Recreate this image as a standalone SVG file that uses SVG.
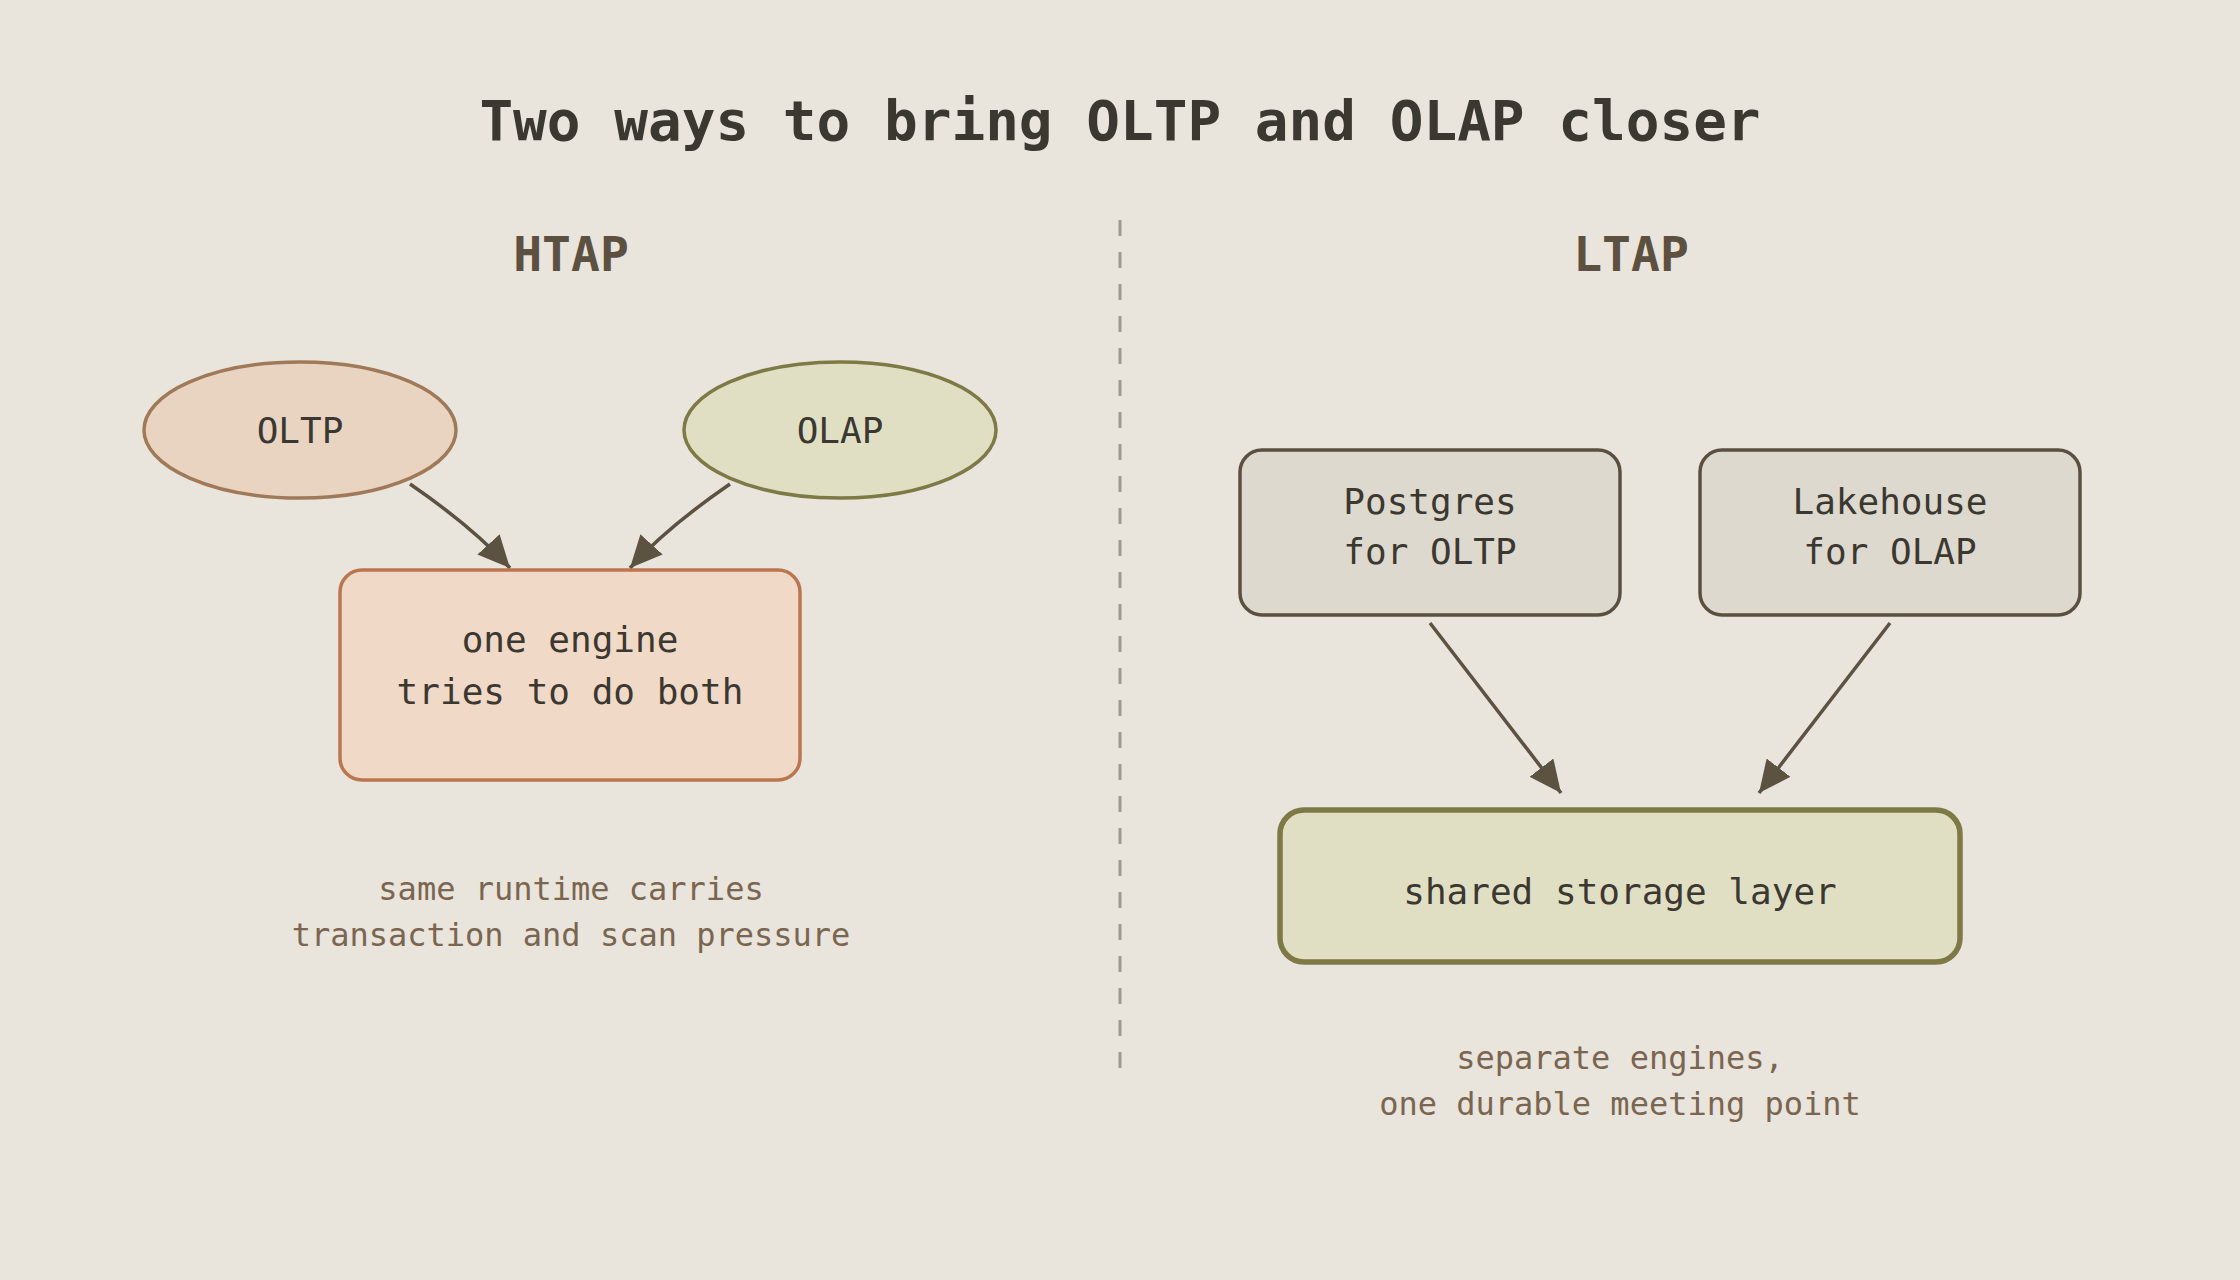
<svg xmlns="http://www.w3.org/2000/svg" width="2240" height="1280" viewBox="0 0 2240 1280">
<style>
  text { font-family: "DejaVu Sans Mono", "Liberation Mono", monospace; text-anchor: middle; }
  .title { font-size: 56px; font-weight: bold; fill: #3b3731; }
  .head { font-size: 48px; font-weight: bold; fill: #5c5040; }
  .lbl { font-size: 36px; fill: #3b3731; }
  .cap { font-size: 32px; fill: #7a6650; }
  .conn { fill: none; stroke: #5b5242; stroke-width: 3.5; marker-end: url(#arr); }
</style>
<defs>
  <marker id="arr" markerUnits="userSpaceOnUse" markerWidth="32" markerHeight="30" refX="32" refY="15" orient="auto">
    <path d="M0,0 L32,15 L0,30 z" fill="#5b5242"/>
  </marker>
</defs>
<rect width="2240" height="1280" fill="#e9e4dc"/>
<text class="title" x="1120" y="140">Two ways to bring OLTP and OLAP closer</text>
<text class="head" x="571" y="271">HTAP</text>
<text class="head" x="1631" y="271">LTAP</text>
<line x1="1120" y1="220" x2="1120" y2="1070" stroke="#a19a8f" stroke-width="3" stroke-dasharray="16 16"/>

<g id="connectors">
  <path class="conn" d="M410,484 C445,508 480,535 510,568"/>
  <path class="conn" d="M730,484 C695,508 660,535 630,568"/>
  <line class="conn" x1="1430" y1="623" x2="1561" y2="793"/>
  <line class="conn" x1="1890" y1="623" x2="1759" y2="793"/>
</g>

<g id="oltp">
  <ellipse cx="300" cy="430" rx="156" ry="68" fill="#e8d4c1" stroke="#a07a58" stroke-width="3.5"/>
  <text class="lbl" x="300" y="443">OLTP</text>
</g>
<g id="olap">
  <ellipse cx="840" cy="430" rx="156" ry="68" fill="#e0dfc4" stroke="#7d7a45" stroke-width="3.5"/>
  <text class="lbl" x="840" y="443">OLAP</text>
</g>
<g id="one-engine">
  <rect x="340" y="570" width="460" height="210" rx="22" fill="#f0d9c6" stroke="#bb7650" stroke-width="3.5"/>
  <text class="lbl" x="570" y="652">one engine</text>
  <text class="lbl" x="570" y="704">tries to do both</text>
</g>
<g id="htap-caption">
  <text class="cap" x="571" y="900">same runtime carries</text>
  <text class="cap" x="571" y="946">transaction and scan pressure</text>
</g>

<g id="postgres">
  <rect x="1240" y="450" width="380" height="165" rx="22" fill="#ddd9ce" stroke="#5b5040" stroke-width="3.5"/>
  <text class="lbl" x="1430" y="514">Postgres</text>
  <text class="lbl" x="1430" y="564">for OLTP</text>
</g>
<g id="lakehouse">
  <rect x="1700" y="450" width="380" height="165" rx="22" fill="#ddd9ce" stroke="#5b5040" stroke-width="3.5"/>
  <text class="lbl" x="1890" y="514">Lakehouse</text>
  <text class="lbl" x="1890" y="564">for OLAP</text>
</g>
<g id="storage">
  <rect x="1280" y="810" width="680" height="152" rx="24" fill="#e0dfc4" stroke="#7d7a45" stroke-width="5.5"/>
  <text class="lbl" x="1620" y="904">shared storage layer</text>
</g>
<g id="ltap-caption">
  <text class="cap" x="1620" y="1069">separate engines,</text>
  <text class="cap" x="1620" y="1115">one durable meeting point</text>
</g>
</svg>
